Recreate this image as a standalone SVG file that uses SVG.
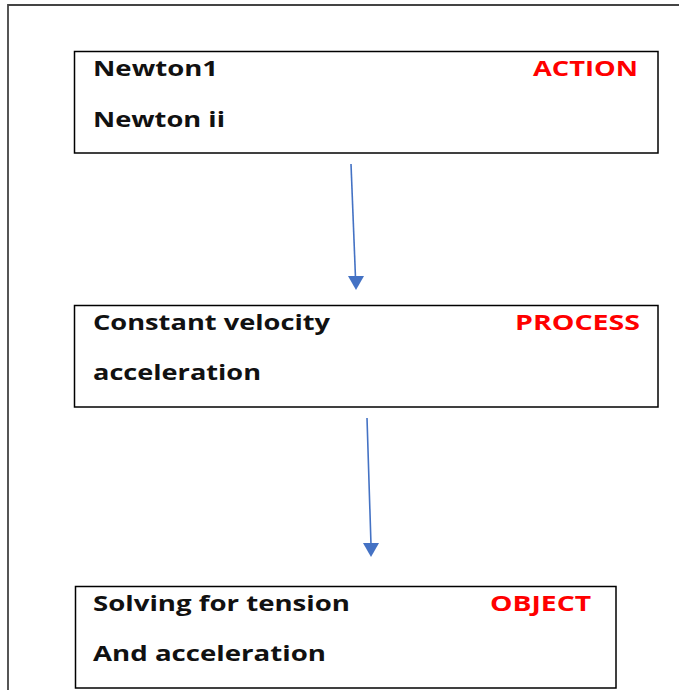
<svg xmlns="http://www.w3.org/2000/svg" width="679" height="690" viewBox="0 0 679 690">
<style>
.box{fill:#fff;stroke:#000;stroke-width:1.5}
.t{font-family:"Open Sans","DejaVu Sans","Liberation Sans",sans-serif;font-weight:bold;font-size:22px;fill:#111}
.r{fill:#ff0000}
.conn{stroke:#4472c4;stroke-width:1.6;fill:none}
.head{fill:#4472c4}
</style>
<rect x="0" y="0" width="679" height="690" fill="#fff"/>
<path d="M8,700 V5 H690" fill="none" stroke="#444" stroke-width="1.8"/>
<g id="action">
<rect class="box" x="74.5" y="51.5" width="583.5" height="101.5"/>
<text class="t" x="93" y="76" textLength="125" lengthAdjust="spacingAndGlyphs">Newton1</text>
<text class="t" x="93" y="127" textLength="132" lengthAdjust="spacingAndGlyphs">Newton ii</text>
<text class="t r" x="533" y="76" textLength="105" lengthAdjust="spacingAndGlyphs">ACTION</text>
</g>
<g id="process">
<rect class="box" x="74.5" y="305.5" width="583.5" height="101.5"/>
<text class="t" x="93" y="330" textLength="237" lengthAdjust="spacingAndGlyphs">Constant velocity</text>
<text class="t" x="93" y="380" textLength="168" lengthAdjust="spacingAndGlyphs">acceleration</text>
<text class="t r" x="515" y="330" textLength="125" lengthAdjust="spacingAndGlyphs">PROCESS</text>
</g>
<g id="object">
<rect class="box" x="75.5" y="586.5" width="540.5" height="101.5"/>
<text class="t" x="93" y="611" textLength="257" lengthAdjust="spacingAndGlyphs">Solving for tension</text>
<text class="t" x="93" y="661" textLength="233" lengthAdjust="spacingAndGlyphs">And acceleration</text>
<text class="t r" x="490" y="611" textLength="101" lengthAdjust="spacingAndGlyphs">OBJECT</text>
</g>
<g id="connectors">
<line class="conn" x1="351" y1="164" x2="355.5" y2="278"/>
<polygon class="head" points="348,276 364,276 356,290"/>
<line class="conn" x1="367" y1="418" x2="371" y2="545"/>
<polygon class="head" points="363,543 379,543 371,557"/>
</g>
</svg>
